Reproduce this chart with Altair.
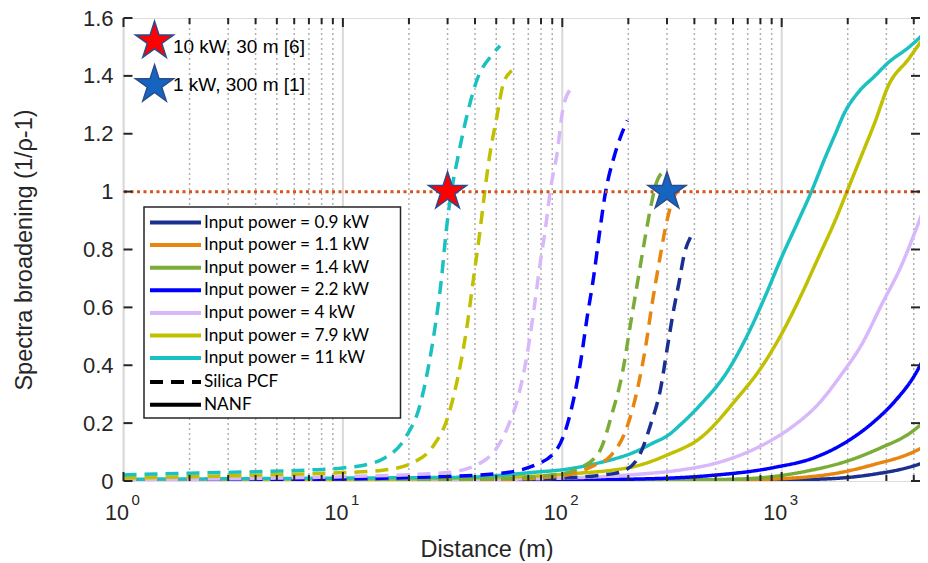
import altair as alt
import pandas as pd

# ---------------- data ----------------
labels = ["Input power = 0.9 kW", "Input power = 1.1 kW", "Input power = 1.4 kW",
          "Input power = 2.2 kW", "Input power = 4 kW", "Input power = 7.9 kW",
          "Input power = 11 kW"]
colors = ["#1a2f8f", "#e8850e", "#7aad37", "#0000ff", "#d8b8fa", "#c0bf00", "#1bc0c0"]
fiber_types = ["Silica PCF", "NANF"]

# Silica PCF (dashed)
pcf_09_x = [1, 50, 100, 150, 184, 220, 253, 281, 301, 323, 341, 359, 385]
pcf_09_y = [0.001, 0.004, 0.010, 0.020, 0.031, 0.076, 0.196, 0.322, 0.460, 0.598, 0.689, 0.781, 0.844]
pcf_11_x = [1, 10, 50, 100, 139, 166, 198, 220, 240, 257, 276, 296, 323, 365]
pcf_11_y = [0.001, 0.002, 0.005, 0.018, 0.053, 0.087, 0.190, 0.317, 0.466, 0.615, 0.753, 0.879, 0.982, 1.022]
pcf_14_x = [1, 10, 50, 100, 117, 147, 169, 188, 205, 220, 236, 253, 271, 301]
pcf_14_y = [0.001, 0.003, 0.008, 0.025, 0.041, 0.099, 0.236, 0.374, 0.546, 0.684, 0.821, 0.947, 1.039, 1.079]
pcf_22_x = [1, 10, 20, 48.5, 74, 94.6, 109, 121, 130, 139, 147, 157, 172, 184, 198]
pcf_22_y = [0.002, 0.007, 0.012, 0.024, 0.053, 0.110, 0.236, 0.408, 0.569, 0.706, 0.844, 0.993, 1.119, 1.188, 1.246]
pcf_4_x = [1, 2, 5, 10, 20, 30.7, 45.2, 55.8, 63.1, 68.9, 73.9, 79.3, 83.6, 88.2, 94.6, 101, 110.7]
pcf_4_y = [0.004, 0.006, 0.010, 0.015, 0.022, 0.030, 0.076, 0.179, 0.294, 0.431, 0.581, 0.753, 0.867, 1.005, 1.131, 1.291, 1.36]
pcf_79_x = [1, 2, 5, 10, 15.2, 20.9, 25.8, 30.2, 33.5, 36.6, 39.3, 42.2, 44.4, 46.8, 50.3, 53.8, 58.9]
pcf_79_y = [0.010, 0.015, 0.022, 0.029, 0.037, 0.064, 0.121, 0.225, 0.362, 0.523, 0.695, 0.867, 1.005, 1.131, 1.257, 1.372, 1.418]
pcf_110_x = [1, 2, 4, 7, 10, 13, 15.2, 19.5, 22.4, 24.4, 26.2, 28.1, 29.6, 31.3, 33, 36.6, 40.7, 48.3, 52]
pcf_110_y = [0.021, 0.027, 0.032, 0.038, 0.045, 0.058, 0.076, 0.156, 0.259, 0.385, 0.523, 0.695, 0.867, 1.005, 1.097, 1.257, 1.383, 1.476, 1.504]

# NANF (solid)
nanf_09_x = [1, 800, 1571, 2661, 3785, 4620]
nanf_09_y = [0.0, 0.003, 0.007, 0.024, 0.047, 0.068]
nanf_11_x = [1, 500, 927, 1871, 2661, 3785, 4620]
nanf_11_y = [0.0, 0.003, 0.007, 0.030, 0.058, 0.093, 0.125]
nanf_14_x = [1, 300, 653, 1318, 2010, 2852, 3785, 4620]
nanf_14_y = [0.001, 0.003, 0.007, 0.035, 0.070, 0.116, 0.162, 0.215]
nanf_22_x = [1, 100, 228, 459, 927, 1413, 2010, 2661, 3284, 4055, 4620]
nanf_22_y = [0.002, 0.004, 0.007, 0.018, 0.047, 0.081, 0.139, 0.208, 0.276, 0.368, 0.450]
nanf_4_x = [1, 30, 100, 228, 323, 547, 778, 1106, 1465, 1871, 2312, 2852, 3524, 4055, 4620]
nanf_4_y = [0.001, 0.004, 0.010, 0.024, 0.035, 0.070, 0.116, 0.185, 0.265, 0.368, 0.471, 0.609, 0.747, 0.861, 0.975]
nanf_79_x = [1, 10, 50, 105, 212, 301, 428, 630, 805, 995, 1228, 1465, 1744, 2010, 2312, 2661, 3063, 3785, 4620]
nanf_79_y = [0.003, 0.005, 0.012, 0.024, 0.050, 0.090, 0.150, 0.288, 0.391, 0.506, 0.643, 0.770, 0.896, 1.011, 1.125, 1.240, 1.366, 1.458, 1.552]
nanf_110_x = [1, 10, 36.6, 74, 105, 149, 212, 262, 301, 347, 428, 567, 700, 834, 995, 1185, 1364, 1571, 1744, 1938, 2233, 2661, 3063, 3785, 4620]
nanf_110_y = [0.006, 0.010, 0.013, 0.030, 0.041, 0.064, 0.099, 0.133, 0.156, 0.196, 0.265, 0.380, 0.506, 0.632, 0.770, 0.896, 0.999, 1.114, 1.194, 1.274, 1.343, 1.400, 1.446, 1.498, 1.558]

# reference markers
star_x = [30, 300]
star_y = [1.0, 1.0]
star_fill = ["#ff0000", "#1565c0"]
key_star_x = [1.385, 1.385]
key_star_y = [1.52, 1.369]
key_text_x = [1.68, 1.68]
key_text_y = [1.48, 1.348]
key_text = ["10 kW, 30 m [6]", "1 kW, 300 m [1]"]

threshold_y = [1.0]

x_major = [1, 10, 100, 1000]
x_exponent = ["0", "1", "2", "3"]
x_minor = [2, 3, 4, 5, 6, 7, 8, 9, 20, 30, 40, 50, 60, 70, 80, 90,
           200, 300, 400, 500, 600, 700, 800, 900, 2000, 3000, 4000]
y_ticks = [0, 0.2, 0.4, 0.6, 0.8, 1.0, 1.2, 1.4, 1.6]

# ---------------- build table ----------------
pcf = [(pcf_09_x, pcf_09_y), (pcf_11_x, pcf_11_y), (pcf_14_x, pcf_14_y), (pcf_22_x, pcf_22_y),
       (pcf_4_x, pcf_4_y), (pcf_79_x, pcf_79_y), (pcf_110_x, pcf_110_y)]
nanf = [(nanf_09_x, nanf_09_y), (nanf_11_x, nanf_11_y), (nanf_14_x, nanf_14_y), (nanf_22_x, nanf_22_y),
        (nanf_4_x, nanf_4_y), (nanf_79_x, nanf_79_y), (nanf_110_x, nanf_110_y)]
rows = []
for ftype, group in (("NANF", nanf), ("Silica PCF", pcf)):
    for lab, (xs, ys) in zip(labels, group):
        for i, (xv, yv) in enumerate(zip(xs, ys)):
            rows.append({"x": xv, "y": yv, "label": lab, "type": ftype,
                         "series": lab + "|" + ftype, "i": i})
df = pd.DataFrame(rows)

W, H = 796.5, 463
XMAX = 4270
AX = "Liberation Sans"
INK = "#262626"

xscale = alt.Scale(type="log", domain=[1, XMAX], nice=False)
yscale = alt.Scale(domain=[0, 1.6], nice=False, zero=False)

xaxis = alt.Axis(values=x_major, grid=False, ticks=False, domain=False, labels=False,
                 title="Distance (m)", titleFont=AX, titleFontSize=23.5, titleFontWeight="normal",
                 titleColor=INK, titleX=363, titleY=75.7, titleAlign="center", titleBaseline="alphabetic")
yaxis = alt.Axis(values=y_ticks, format="~g", grid=False, ticks=False, domain=False,
                 labelFont=AX, labelFontSize=22, labelColor=INK, labelPadding=10.5,
                 title="Spectra broadening (1/ρ-1)", titleFont=AX, titleFontSize=23.5,
                 titleFontWeight="normal", titleColor=INK, titleX=-92, titleY=H / 2,
                 titleAngle=-90, titleAlign="center", titleBaseline="alphabetic")

X = alt.X("x:Q", scale=xscale, axis=xaxis)
Y = alt.Y("y:Q", scale=yscale, axis=yaxis)

minor_df = pd.DataFrame({"x": x_minor})
major_df = pd.DataFrame({"x": x_major, "e": x_exponent, "b": ["10"] * len(x_major)})
yt_df = pd.DataFrame({"y": y_ticks})

grid_minor = alt.Chart(minor_df).mark_rule(color="#b0b0b0", strokeWidth=1.5, strokeDash=[2, 3]).encode(
    x=X, y=alt.value(0), y2=alt.value(H))
grid_major = alt.Chart(major_df).mark_rule(color="#d9d9d9", strokeWidth=2).encode(
    x=X, y=alt.value(0), y2=alt.value(H))

threshold = alt.Chart(pd.DataFrame({"y": threshold_y})).mark_rule(
    color="#d95319", strokeWidth=3, strokeDash=[3, 3.5]).encode(y=Y)

star_path = ("M0,-1L0.2245,-0.309L0.951,-0.309L0.363,0.118L0.588,0.809L0,0.382"
             "L-0.588,0.809L-0.363,0.118L-0.951,-0.309L-0.2245,-0.309Z")

leg_common = dict(orient="none", legendX=24.5, title=None, symbolType="M-1,0L5,0", symbolSize=289,
                  symbolStrokeWidth=4, labelFont="Lato", labelFontSize=17.2, labelColor="black",
                  labelOffset=35, rowPadding=3.6, padding=0, symbolOffset=0, labelLimit=0)

lines = alt.Chart(df).mark_line(strokeWidth=3.5, interpolate="monotone", clip=True).encode(
    x=X, y=Y,
    color=alt.Color("label:N", scale=alt.Scale(domain=labels, range=colors),
                    legend=alt.Legend(legendY=194, **leg_common)),
    strokeDash=alt.StrokeDash("type:N", scale=alt.Scale(domain=fiber_types, range=[[13, 8], [1, 0]]),
                              legend=alt.Legend(legendY=194 + 7 * 22.8, symbolStrokeColor="black",
                                                **leg_common)),
    detail="series:N",
    order="i:Q",
)

legend_box = alt.Chart(pd.DataFrame({"k": [0]})).mark_rect(
    fill="white", stroke=INK, strokeWidth=1.5).encode(
    x=alt.value(20.5), x2=alt.value(277), y=alt.value(189), y2=alt.value(400))

stars_df = pd.DataFrame({"x": star_x + key_star_x, "y": star_y + key_star_y,
                         "f": star_fill + star_fill})
stars = alt.Chart(stars_df).mark_point(shape=star_path, filled=True, size=1600, opacity=1,
                                       stroke="#2b4b8c", strokeWidth=1.5).encode(
    x=X, y=Y, fill=alt.Fill("f:N", scale=None))

key_df = pd.DataFrame({"x": key_text_x, "y": key_text_y, "t": key_text})
key_txt = alt.Chart(key_df).mark_text(align="left", baseline="alphabetic", font=AX,
                                      fontSize=19, color="black").encode(x=X, y=Y, text="t:N")

# decade tick labels 10^n : base and exponent
xlab_base = alt.Chart(major_df).mark_text(align="right", baseline="alphabetic", font=AX,
                                          fontSize=21.5, color=INK, dx=5.5).encode(
    x=X, y=alt.value(H + 39.3), text="b:N")
xlab_exp = alt.Chart(major_df).mark_text(align="left", baseline="alphabetic", font=AX,
                                         fontSize=15, color=INK, dx=8).encode(
    x=X, y=alt.value(H + 23.7), text="e:N")

tick_w = 2
top_major = alt.Chart(major_df).mark_rule(color=INK, strokeWidth=tick_w).encode(
    x=X, y=alt.value(0), y2=alt.value(9))
top_minor = alt.Chart(minor_df).mark_rule(color=INK, strokeWidth=tick_w).encode(
    x=X, y=alt.value(0), y2=alt.value(6))
bot_major = alt.Chart(major_df).mark_rule(color=INK, strokeWidth=tick_w).encode(
    x=X, y=alt.value(H), y2=alt.value(H - 9))
bot_minor = alt.Chart(minor_df).mark_rule(color=INK, strokeWidth=tick_w).encode(
    x=X, y=alt.value(H), y2=alt.value(H - 6))
left_t = alt.Chart(yt_df).mark_rule(color=INK, strokeWidth=tick_w).encode(
    y=Y, x=alt.value(0), x2=alt.value(9))
right_t = alt.Chart(yt_df).mark_rule(color=INK, strokeWidth=tick_w).encode(
    y=Y, x=alt.value(W), x2=alt.value(W - 9))

chart = alt.layer(
    grid_minor, grid_major, lines, threshold, legend_box, stars, key_txt,
    xlab_base, xlab_exp,
    top_major, top_minor, bot_major, bot_minor, left_t, right_t,
).properties(
    width=W, height=H,
    autosize=alt.AutoSizeParams(type="none"),
    padding={"left": 115.5, "top": 10, "right": 0, "bottom": 80},
).configure_view(stroke=INK, strokeWidth=2.5).configure(background="white")

chart.save("out.html", embed_options={"renderer": "svg", "actions": False})
